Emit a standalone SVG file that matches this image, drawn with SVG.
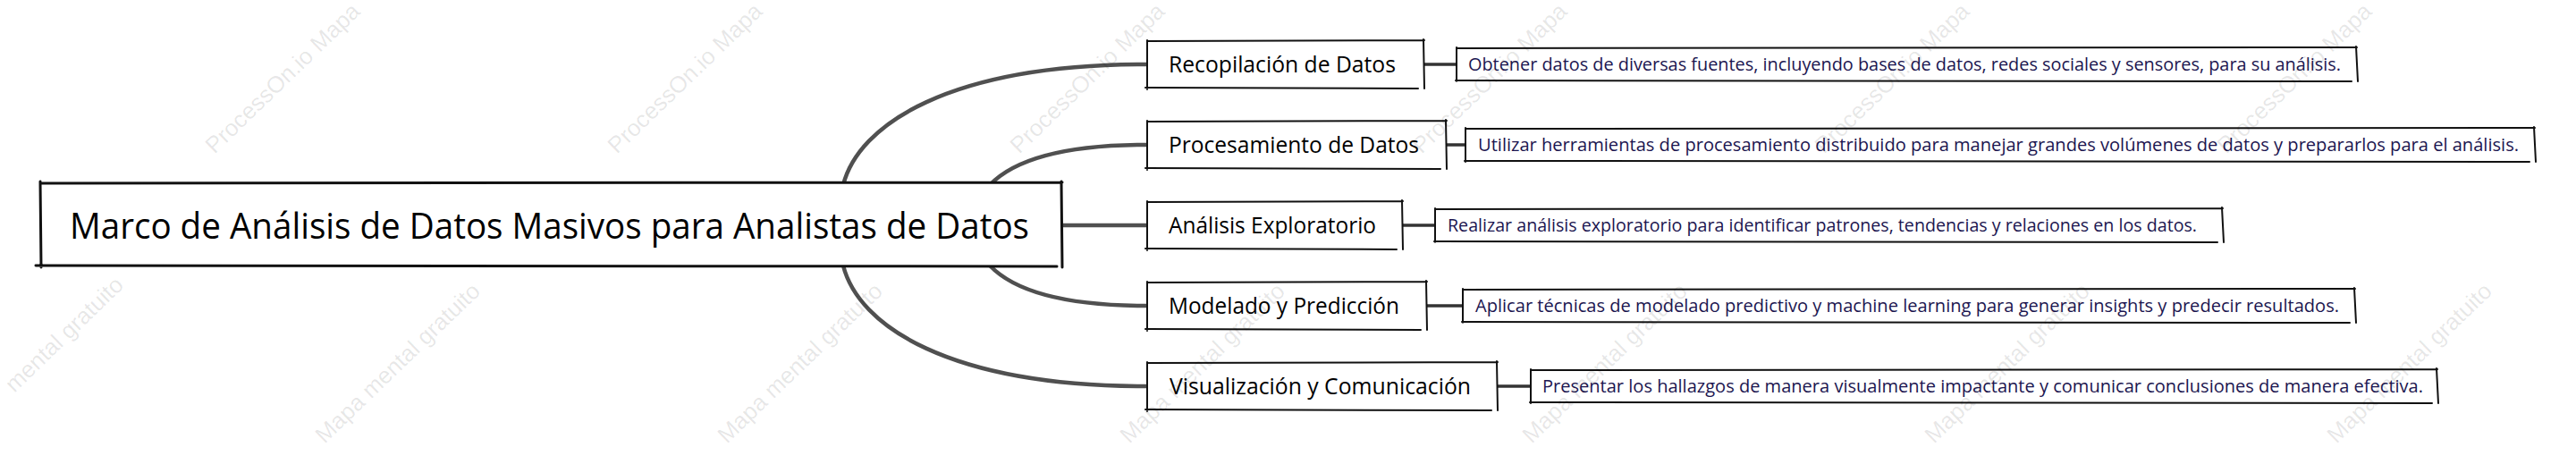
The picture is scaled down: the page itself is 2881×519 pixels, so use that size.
<svg xmlns="http://www.w3.org/2000/svg" width="2881" height="519" viewBox="0 0 2881 519">
<style>
.bg{fill:#ffffff}
.box{fill:#ffffff;stroke:none}
.sk{fill:none;stroke:#111;stroke-width:2;stroke-linecap:round}
.skm{fill:none;stroke:#111;stroke-width:3;stroke-linecap:round}
.branch{fill:none;stroke:#505050;stroke-width:4.5;stroke-linecap:round}
.leaf{fill:none;stroke:#333;stroke-width:3.5}
.tmain{font-family:"Open Sans","Noto Sans","DejaVu Sans",sans-serif;font-size:41px;fill:#000}
.tsub{font-family:"Open Sans","Noto Sans","DejaVu Sans",sans-serif;font-size:25px;fill:#000}
.tdet{font-family:"Open Sans","Noto Sans","DejaVu Sans",sans-serif;font-size:19.5px;fill:#1c1650}
.wm{font-family:"Liberation Sans",Arial,sans-serif;font-size:26px;fill:#000;fill-opacity:0.1}
</style>
<rect class="bg" x="0" y="0" width="2881" height="519"/>

<g id="connectors">
  <path class="branch" d="M943,207 C960,140 1060,72 1283,72"/>
  <path class="branch" d="M1107,207 Q1150,162 1283,162"/>
  <path class="branch" d="M1187,252 L1283,252"/>
  <path class="branch" d="M1107,297 Q1150,342 1283,342"/>
  <path class="branch" d="M943,297 C960,364 1060,432 1283,432"/>
  <path class="leaf" d="M1592,72 L1629,72"/>
  <path class="leaf" d="M1617,162 L1639,162"/>
  <path class="leaf" d="M1568,252 L1605,252"/>
  <path class="leaf" d="M1595,342 L1636,342"/>
  <path class="leaf" d="M1674,432 L1712,432"/>
</g>

<g id="root">
  <rect class="box" x="45" y="205" width="1142" height="92"/>
  <path class="skm" d="M45,205 L1188,204 M1187,203 L1188,299 M40,297 L1182,298 M45,203 L46,299"/>
  <text class="tmain" x="78" y="267" textLength="1073" lengthAdjust="spacingAndGlyphs">Marco de Análisis de Datos Masivos para Analistas de Datos</text>
</g>

<g id="n1">
  <rect class="box" x="1283" y="46" width="309" height="52"/>
  <path class="sk" d="M1283,46 L1593,45 M1592,44 L1593,99 M1281,98 L1586,99 M1283,45 L1283,100"/>
  <text class="tsub" x="1307" y="81" textLength="254" lengthAdjust="spacingAndGlyphs">Recopilación de Datos</text>
</g>
<g id="n2">
  <rect class="box" x="1283" y="136" width="334" height="52"/>
  <path class="sk" d="M1283,136 L1618,135 M1617,134 L1618,189 M1281,188 L1611,189 M1283,135 L1283,190"/>
  <text class="tsub" x="1307" y="171" textLength="280" lengthAdjust="spacingAndGlyphs">Procesamiento de Datos</text>
</g>
<g id="n3">
  <rect class="box" x="1283" y="226" width="285" height="52"/>
  <path class="sk" d="M1283,226 L1569,225 M1568,224 L1569,279 M1281,278 L1562,279 M1283,225 L1283,280"/>
  <text class="tsub" x="1307" y="261" textLength="232" lengthAdjust="spacingAndGlyphs">Análisis Exploratorio</text>
</g>
<g id="n4">
  <rect class="box" x="1283" y="316" width="312" height="52"/>
  <path class="sk" d="M1283,316 L1596,315 M1595,314 L1596,369 M1281,368 L1589,369 M1283,315 L1283,370"/>
  <text class="tsub" x="1307" y="351" textLength="258" lengthAdjust="spacingAndGlyphs">Modelado y Predicción</text>
</g>
<g id="n5">
  <rect class="box" x="1283" y="406" width="391" height="52"/>
  <path class="sk" d="M1283,406 L1675,405 M1674,404 L1675,459 M1281,458 L1668,459 M1283,405 L1283,460"/>
  <text class="tsub" x="1308" y="441" textLength="337" lengthAdjust="spacingAndGlyphs">Visualización y Comunicación</text>
</g>

<g id="d1">
  <rect class="box" x="1629" y="54" width="1006" height="36"/>
  <path class="sk" d="M1629,54 L2636,53 M2635,52 L2637,91 M1628,90 L2630,91 M1629,53 L1629,91"/>
  <text class="tdet" x="1642" y="79" textLength="976" lengthAdjust="spacingAndGlyphs">Obtener datos de diversas fuentes, incluyendo bases de datos, redes sociales y sensores, para su análisis.</text>
</g>
<g id="d2">
  <rect class="box" x="1639" y="144" width="1195" height="36"/>
  <path class="sk" d="M1639,144 L2835,143 M2834,142 L2836,181 M1638,180 L2829,181 M1639,143 L1639,181"/>
  <text class="tdet" x="1653" y="169" textLength="1164" lengthAdjust="spacingAndGlyphs">Utilizar herramientas de procesamiento distribuido para manejar grandes volúmenes de datos y prepararlos para el análisis.</text>
</g>
<g id="d3">
  <rect class="box" x="1605" y="234" width="880" height="36"/>
  <path class="sk" d="M1605,234 L2486,233 M2485,232 L2487,271 M1604,270 L2480,271 M1605,233 L1605,271"/>
  <text class="tdet" x="1619" y="259" textLength="838" lengthAdjust="spacingAndGlyphs">Realizar análisis exploratorio para identificar patrones, tendencias y relaciones en los datos.</text>
</g>
<g id="d4">
  <rect class="box" x="1636" y="324" width="997" height="36"/>
  <path class="sk" d="M1636,324 L2634,323 M2633,322 L2635,361 M1635,360 L2628,361 M1636,323 L1636,361"/>
  <text class="tdet" x="1650" y="349" textLength="966" lengthAdjust="spacingAndGlyphs">Aplicar técnicas de modelado predictivo y machine learning para generar insights y predecir resultados.</text>
</g>
<g id="d5">
  <rect class="box" x="1712" y="414" width="1013" height="36"/>
  <path class="sk" d="M1712,414 L2726,413 M2725,412 L2727,451 M1711,450 L2720,451 M1712,413 L1712,451"/>
  <text class="tdet" x="1725" y="439" textLength="985" lengthAdjust="spacingAndGlyphs">Presentar los hallazgos de manera visualmente impactante y comunicar conclusiones de manera efectiva.</text>
</g>

<g id="watermark">
  <text class="wm" transform="translate(240,173) rotate(-44)">ProcessOn.io Mapa</text>
  <text class="wm" transform="translate(690,173) rotate(-44)">ProcessOn.io Mapa</text>
  <text class="wm" transform="translate(1140,173) rotate(-44)">ProcessOn.io Mapa</text>
  <text class="wm" transform="translate(1590,173) rotate(-44)">ProcessOn.io Mapa</text>
  <text class="wm" transform="translate(2040,173) rotate(-44)">ProcessOn.io Mapa</text>
  <text class="wm" transform="translate(2490,173) rotate(-44)">ProcessOn.io Mapa</text>
  <text class="wm" transform="translate(16,440) rotate(-44)">mental gratuito</text>
  <text class="wm" transform="translate(363,497) rotate(-44)">Mapa mental gratuito</text>
  <text class="wm" transform="translate(813,497) rotate(-44)">Mapa mental gratuito</text>
  <text class="wm" transform="translate(1263,497) rotate(-44)">Mapa mental gratuito</text>
  <text class="wm" transform="translate(1713,497) rotate(-44)">Mapa mental gratuito</text>
  <text class="wm" transform="translate(2163,497) rotate(-44)">Mapa mental gratuito</text>
  <text class="wm" transform="translate(2613,497) rotate(-44)">Mapa mental gratuito</text>
</g>
</svg>
